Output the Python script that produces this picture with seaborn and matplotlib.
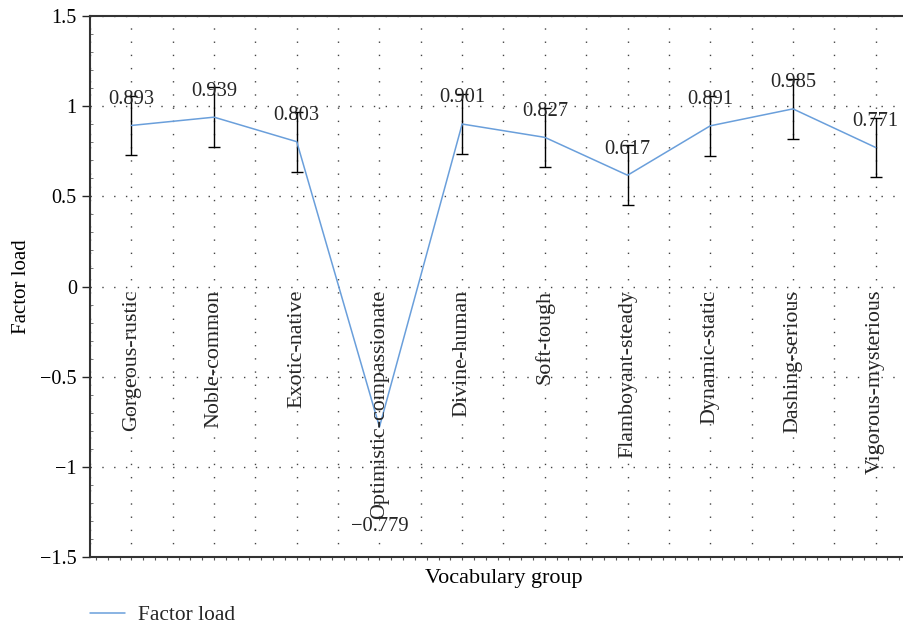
import numpy as np
import pandas as pd
import matplotlib
matplotlib.use("Agg")
import matplotlib.pyplot as plt
import seaborn as sns
from matplotlib.ticker import MultipleLocator, NullFormatter

groups = ['Gorgeous-rustic', 'Noble-common', 'Exotic-native', 'Optimistic-compassionate',
          'Divine-human', 'Soft-tough', 'Flamboyant-steady', 'Dynamic-static',
          'Dashing-serious', 'Vigorous-mysterious']
loads = [0.893, 0.939, 0.803, -0.779, 0.901, 0.827, 0.617, 0.891, 0.985, 0.771]
errors = [0.166, 0.165, 0.166, 0.0, 0.165, 0.165, 0.165, 0.165, 0.165, 0.166]
y_ticks = [-1.5, -1, -0.5, 0, 0.5, 1, 1.5]
y_tick_labels = ['\u22121.5', '\u22121', '\u22120.5', '0', '0.5', '1', '1.5']

df = pd.DataFrame({'pos': np.arange(len(groups)), 'load': loads, 'err': errors})

sns.set_style('ticks')
plt.rcParams['font.family'] = ['Liberation Serif', 'DejaVu Serif']
plt.rcParams['font.size'] = 14.5

fig = plt.figure(figsize=(9.04, 6.28), dpi=100)
ax = fig.add_axes([90 / 904, 1 - 557 / 628, (917 - 90) / 904, (557 - 16) / 628])

# grid: dotted at every category and half way between
for xv in np.arange(-0.5, len(groups), 0.5):
    ax.axvline(xv, color='#444444', lw=1.0, ls=(0, (1, 8.5)), zorder=0)
for yv in y_ticks:
    ax.axhline(yv, color='#444444', lw=1.0, ls=(0, (1, 7.5)), zorder=0)

eb = df[df['err'] > 0]
ax.errorbar(eb['pos'], eb['load'], yerr=eb['err'], fmt='none', ecolor='black',
            elinewidth=1.0, capsize=4, capthick=1.0, zorder=3)
sns.lineplot(data=df, x='pos', y='load', color='#6A9FDB', lw=1.1, ax=ax,
             label='Factor load', legend=False, zorder=4)

for i, (v, e) in enumerate(zip(loads, errors)):
    if v >= 0:
        ax.text(i, v + e - 0.02, f'{v:.3f}', ha='center', va='center', fontsize=14.8, zorder=5)
    else:
        ax.text(i, -1.33, f'\u2212{abs(v):.3f}', ha='center', va='center', fontsize=14.8, zorder=5)
    ax.text(i, -0.02, groups[i], rotation=90, ha='center', va='top', fontsize=15.8, zorder=5)

ax.set_xlim(-0.5, len(groups) - 0.5)
ax.set_ylim(-1.5, 1.5)
ax.set_yticks(y_ticks)
ax.set_yticklabels(y_tick_labels, fontsize=14.5, color='black')
ax.set_xticks([])
ax.xaxis.set_minor_locator(MultipleLocator(1 / 7))
ax.yaxis.set_minor_locator(MultipleLocator(0.1))
ax.xaxis.set_minor_formatter(NullFormatter())
ax.tick_params(axis='y', which='major', direction='out', length=6, width=1)
ax.tick_params(axis='y', which='minor', direction='in', length=2.5, width=0.7, colors='#777777')
ax.tick_params(axis='x', which='minor', direction='out', length=2.5, width=0.8, colors='#555555')

for s in ['left', 'bottom', 'top']:
    ax.spines[s].set_linewidth(1.5)
    ax.spines[s].set_color('#333333')
ax.spines['right'].set_visible(False)

ax.set_xlabel('Vocabulary group', fontsize=15.9, color='black')
ax.xaxis.set_label_coords((504 - 90) / (917 - 90), -0.022)
ax.xaxis.label.set_va('top')
ax.set_ylabel('Factor load', fontsize=15, color='black')
ax.yaxis.set_label_coords(-(90 - 31) / (917 - 90), 0.5)

handles, labels = ax.get_legend_handles_labels()
fig.legend(handles, labels, loc='center left', bbox_to_anchor=(90 / 904, 1 - 615 / 628),
           frameon=False, fontsize=15.4, handlelength=1.65, handletextpad=0.6,
           borderpad=0, borderaxespad=0)

fig.savefig('out.png', dpi=100)
